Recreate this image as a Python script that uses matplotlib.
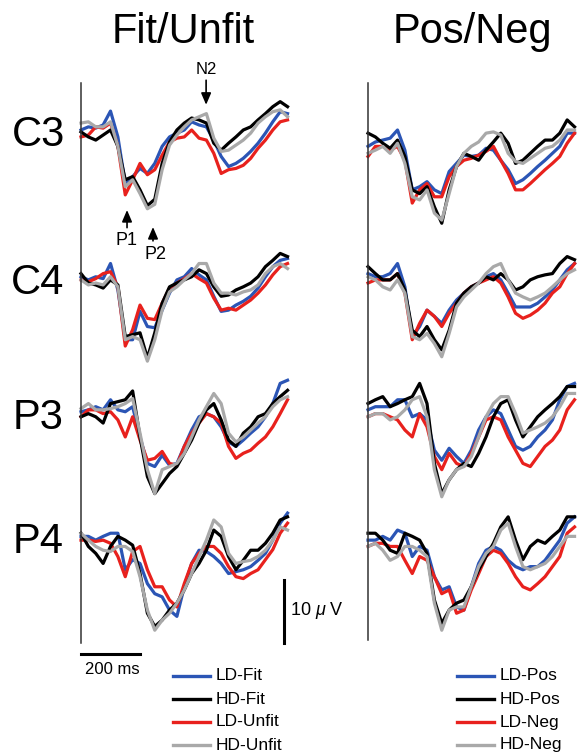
import numpy as np
import matplotlib
matplotlib.use('Agg')
from matplotlib import pyplot as plt
from matplotlib.lines import Line2D

plt.rcParams['font.family'] = ['Liberation Sans', 'DejaVu Sans']
plt.rcParams['mathtext.fontset'] = 'custom'
plt.rcParams['mathtext.it'] = 'Liberation Sans:italic'

# time points of the grand averages (ms)
times = np.arange(0, 701, 25)

electrodes = ['C3', 'C4', 'P3', 'P4']
fit_labels = ['LD-Fit', 'HD-Fit', 'LD-Unfit', 'HD-Unfit']
pos_labels = ['LD-Pos', 'HD-Pos', 'LD-Neg', 'HD-Neg']
trace_colors = ['#2b55b5', '#000000', '#e8211d', '#a9a9a9']

# amplitudes in microvolts (negative is drawn up)
# --- Fit/Unfit ---
c3_ld_fit = [0.0, -0.5, -0.3, -0.8, -3.0, 1.1, 8.5, 7.4, 6.1, 6.9, 5.3, 2.6, 1.1, 0.5, 0.0, -1.3, -0.8, -0.5, 1.6, 4.2, 5.8, 5.3, 4.5, 3.4, 2.1, 0.5, -1.3, -2.9, -2.6]
c3_hd_fit = [0.3, 1.1, 1.6, 0.8, 0.0, 2.6, 7.9, 7.4, 9.5, 12.0, 11.0, 5.3, 1.9, 0.0, -1.1, -1.9, -1.6, -1.1, 2.1, 3.2, 2.1, 1.1, 0.0, -0.5, -1.6, -2.6, -3.7, -4.5, -3.7]
c3_ld_unfit = [1.1, 0.8, -0.5, -0.3, -1.1, 2.6, 10.3, 7.9, 5.3, 7.1, 6.3, 4.0, 1.9, 1.3, 1.1, 0.0, 1.3, 1.6, 3.7, 6.9, 6.3, 6.1, 5.6, 4.5, 2.9, 1.6, 0.0, -1.3, -1.6]
c3_hd_unfit = [-1.1, -1.3, -0.5, -0.5, -1.3, 2.6, 9.0, 7.9, 10.1, 12.5, 11.8, 6.3, 2.4, 0.8, -0.5, -1.6, -2.1, -2.6, 1.3, 3.4, 3.2, 2.4, 1.6, 0.5, -1.1, -2.1, -2.9, -3.2, -2.1]

c4_ld_fit = [-0.2, 0.3, -0.2, 0.1, -2.3, 1.9, 9.8, 9.8, 5.3, 7.7, 7.9, 5.1, 2.4, 0.3, -0.2, -1.5, -0.5, 0.3, 2.9, 5.3, 5.1, 4.3, 3.7, 2.9, 1.6, -0.2, -1.8, -2.8, -3.1]
c4_hd_fit = [-0.7, 0.8, 1.1, 1.6, 0.3, 1.1, 9.3, 9.0, 8.7, 12.7, 8.7, 4.0, 1.4, 0.8, 0.3, -0.2, -1.3, -0.7, 1.4, 2.9, 2.7, 1.9, 1.4, 0.8, -0.2, -1.8, -2.8, -3.9, -3.4]
c4_ld_unfit = [0.3, 0.6, 0.1, -0.7, -1.0, 1.4, 10.8, 8.2, 4.3, 6.4, 6.6, 4.0, 1.6, 0.8, 0.1, -0.7, 0.1, 0.8, 3.2, 5.1, 4.8, 5.1, 4.3, 3.5, 2.4, 1.1, -0.5, -1.8, -2.3]
c4_hd_unfit = [0.3, 1.1, 0.8, 1.1, -0.2, 1.4, 9.8, 9.3, 9.8, 13.2, 9.8, 5.1, 2.2, 1.4, 0.3, -0.7, -2.3, -2.3, 0.8, 2.4, 2.4, 2.7, 2.2, 1.9, 1.1, -0.7, -1.8, -2.3, -1.5]

p3_ld_fit = [-0.2, -0.5, -1.0, -0.5, -2.1, -0.5, -0.2, -1.0, 3.8, 8.0, 8.5, 6.7, 8.3, 8.0, 5.3, 2.7, 0.6, 0.1, 0.6, 2.2, 4.6, 5.3, 4.3, 3.2, 2.2, 0.6, -1.5, -4.7, -5.2]
p3_hd_fit = [0.6, 0.1, 0.6, 1.6, -1.5, -1.8, -2.1, -3.5, 3.8, 10.1, 12.8, 11.2, 9.6, 8.5, 6.4, 4.3, 1.6, -0.5, -1.5, 1.1, 4.3, 5.3, 3.2, 2.2, 0.6, 0.1, -1.5, -2.6, -3.6]
p3_ld_unfit = [0.6, -0.5, -0.5, 0.1, -0.2, 1.1, 3.8, 0.6, 4.3, 7.5, 7.2, 6.1, 8.0, 8.3, 5.3, 3.2, 1.6, 0.1, 0.6, 1.6, 5.3, 7.2, 6.4, 5.9, 4.8, 3.8, 2.2, 0.1, -2.1]
p3_hd_unfit = [-0.7, -1.5, -0.5, -0.5, -0.7, -1.0, -1.5, -2.3, 3.2, 9.0, 12.8, 9.0, 8.5, 8.0, 6.4, 3.8, 1.1, -1.0, -3.1, -1.5, 3.2, 4.6, 3.8, 2.7, 1.6, 0.6, -1.0, -2.1, -2.6]

p4_ld_fit = [-0.1, -0.1, 0.5, -0.1, -0.6, -0.6, 5.2, 3.6, 4.2, 7.4, 9.0, 9.5, 11.6, 12.6, 7.9, 4.2, 2.1, 2.3, 3.1, 4.2, 5.8, 5.5, 5.2, 4.7, 3.7, 2.6, 0.5, -2.2, -3.8]
p4_hd_fit = [-0.6, 1.5, 2.6, 4.2, 1.5, -0.1, 0.5, 1.3, 5.8, 12.1, 14.2, 13.2, 11.6, 10.5, 8.4, 5.8, 4.2, 2.1, -1.1, -0.1, 3.1, 5.2, 3.7, 2.1, 2.1, 1.0, -0.6, -2.7, -3.2]
p4_ld_unfit = [0.5, 0.5, 0.7, 0.5, 1.0, 3.1, 6.3, 2.3, 1.5, 5.2, 7.9, 7.9, 10.0, 11.1, 7.4, 4.2, 2.6, 1.5, 1.5, 2.6, 4.7, 6.3, 6.6, 5.8, 5.2, 3.6, 2.0, -0.6, -2.2]
p4_hd_unfit = [-0.6, 0.5, 1.5, 2.1, 2.3, 1.5, 1.5, 2.3, 6.3, 11.6, 14.8, 13.2, 12.1, 10.5, 8.4, 5.8, 3.1, 0.5, -2.7, -1.6, 2.6, 4.2, 3.9, 3.7, 3.1, 2.1, 0.5, -1.6, -1.1]

# --- Pos/Neg ---
c3_ld_pos = [2.6, 1.9, 1.6, 1.3, 0.0, 3.2, 9.5, 9.0, 8.2, 9.5, 10.1, 6.6, 5.3, 4.0, 4.2, 4.0, 2.9, 3.2, 4.8, 6.3, 8.5, 7.9, 6.9, 5.8, 4.8, 3.7, 2.6, 0.5, 0.5]
c3_hd_pos = [0.5, 1.1, 2.1, 2.9, 1.6, 4.2, 9.5, 10.1, 9.0, 12.2, 14.8, 9.5, 5.8, 3.7, 4.2, 4.8, 3.2, 1.9, 0.5, 2.1, 5.3, 4.8, 3.7, 2.6, 1.6, 1.6, 0.5, -1.6, -0.5]
c3_ld_neg = [4.2, 2.6, 2.6, 3.2, 2.6, 4.8, 11.6, 9.5, 8.5, 10.6, 10.6, 7.4, 5.8, 4.8, 4.5, 4.0, 3.4, 2.6, 4.8, 6.9, 9.5, 9.5, 8.5, 7.4, 6.3, 5.3, 4.2, 2.1, 0.5]
c3_hd_neg = [3.7, 3.2, 2.6, 3.7, 2.1, 5.3, 10.6, 11.1, 9.5, 13.2, 14.3, 10.1, 5.8, 3.7, 2.6, 1.9, 0.5, 0.3, 0.8, 3.7, 5.0, 5.3, 4.5, 3.7, 2.9, 2.6, 1.6, 0.0, 0.0]

c4_ld_pos = [-0.7, -0.2, -0.2, -0.7, -2.3, 1.4, 9.3, 7.7, 5.1, 6.1, 7.2, 5.1, 3.5, 2.4, 1.4, 0.8, -0.2, -0.7, 0.3, 2.4, 4.6, 4.6, 4.6, 4.0, 3.0, 1.9, 0.3, -1.3, -2.3]
c4_hd_pos = [-1.8, -0.7, 0.3, 0.3, -0.7, 1.9, 8.3, 9.3, 7.7, 9.8, 11.4, 8.3, 4.0, 2.4, 1.4, 0.8, -0.2, 0.3, -0.7, 0.3, 1.9, 1.4, 0.3, -0.2, -0.5, -0.7, -2.3, -3.4, -2.9]
c4_ld_neg = [0.8, 0.3, 0.3, 0.3, -0.7, 2.4, 9.8, 7.2, 5.1, 6.1, 7.7, 5.6, 4.0, 2.4, 1.4, 0.8, 0.3, -0.2, 0.8, 3.0, 5.6, 6.4, 5.9, 5.1, 4.0, 2.4, 1.4, -0.7, -2.3]
c4_hd_neg = [-0.2, 0.3, 1.4, 1.9, 0.3, 2.4, 9.3, 9.8, 8.8, 10.4, 12.5, 8.8, 4.6, 3.0, 1.9, 0.8, -0.7, -1.8, -2.3, 0.3, 2.4, 3.0, 3.5, 3.0, 2.4, 1.4, 0.3, -0.7, -1.3]

p3_ld_pos = [-0.5, -1.0, -1.0, -1.0, -2.1, -2.1, 0.6, 0.1, 1.1, 5.9, 7.5, 5.6, 6.9, 8.0, 5.9, 2.7, 0.6, -0.5, 0.1, 2.7, 5.3, 5.9, 5.3, 3.8, 2.7, 1.1, -2.1, -4.2, -4.7]
p3_hd_pos = [-1.5, -2.1, -2.6, -1.0, -1.5, -2.1, -2.6, -4.7, -1.5, 8.0, 12.8, 10.6, 9.0, 8.0, 8.5, 6.4, 3.8, 0.6, -1.5, -2.1, 1.1, 3.8, 2.2, 0.6, -0.5, -1.5, -2.6, -4.2, -4.2]
p3_ld_neg = [0.6, 0.1, 0.1, 0.6, 1.1, 2.7, 3.8, 0.1, 2.2, 6.9, 9.0, 6.4, 8.0, 8.5, 6.4, 3.8, 1.1, 0.6, 1.1, 3.8, 5.9, 8.0, 8.5, 6.9, 5.3, 4.3, 2.7, -0.5, -2.1]
p3_hd_neg = [0.6, 0.1, 0.1, 1.1, 0.6, -0.5, -2.1, -2.6, 0.6, 9.0, 13.3, 10.6, 9.0, 8.5, 6.9, 3.8, 0.6, -1.5, -2.6, -2.6, 0.1, 3.2, 2.7, 2.2, 1.6, 0.6, -1.0, -3.1, -3.1]

p4_ld_pos = [0.5, 0.5, -0.1, 0.5, -1.1, -0.6, 3.1, 1.5, 2.1, 6.3, 8.4, 7.9, 11.1, 11.6, 7.9, 4.2, 2.1, 1.5, 2.1, 3.7, 4.7, 5.2, 4.7, 4.7, 3.7, 2.1, 0.5, -2.2, -3.2]
p4_hd_pos = [-0.6, -0.6, 0.5, 2.1, 2.6, -0.6, -0.1, 0.5, 2.6, 10.0, 13.7, 11.6, 10.5, 10.0, 7.9, 5.2, 3.1, 1.0, -1.6, -3.2, 0.5, 3.6, 1.5, 0.5, 1.0, -0.1, -1.1, -3.2, -3.2]
p4_ld_neg = [1.5, 1.0, 1.0, 1.5, 1.5, 3.7, 5.8, 3.1, 3.7, 6.3, 9.0, 8.4, 12.1, 11.6, 8.4, 5.8, 3.1, 2.1, 2.6, 4.2, 6.3, 7.9, 8.4, 7.4, 6.3, 4.7, 3.1, -0.6, -1.6]
p4_hd_neg = [1.5, 1.0, 2.1, 3.7, 3.1, 1.5, 1.5, 2.1, 3.1, 10.5, 14.8, 11.6, 11.1, 11.1, 7.9, 4.7, 2.6, 1.5, -1.1, -2.2, 1.5, 4.7, 5.2, 4.7, 4.2, 3.1, 1.5, -0.1, -0.1]

fit_data = {
    'C3': [c3_ld_fit, c3_hd_fit, c3_ld_unfit, c3_hd_unfit],
    'C4': [c4_ld_fit, c4_hd_fit, c4_ld_unfit, c4_hd_unfit],
    'P3': [p3_ld_fit, p3_hd_fit, p3_ld_unfit, p3_hd_unfit],
    'P4': [p4_ld_fit, p4_hd_fit, p4_ld_unfit, p4_hd_unfit],
}
pos_data = {
    'C3': [c3_ld_pos, c3_hd_pos, c3_ld_neg, c3_hd_neg],
    'C4': [c4_ld_pos, c4_hd_pos, c4_ld_neg, c4_hd_neg],
    'P3': [p3_ld_pos, p3_hd_pos, p3_ld_neg, p3_hd_neg],
    'P4': [p4_ld_pos, p4_hd_pos, p4_ld_neg, p4_hd_neg],
}

# figure layout in pixels
W, H = 577, 754
fig = plt.figure(figsize=(W / 100, H / 100), dpi=100)

col_x = [81, 368]          # left edge of each column
row_base = [130, 278, 413, 537]  # pixel row of 0 uV for each electrode
panel_w = 209.5
up_uv, down_uv = -8, 15
px_per_uv = 6.3


def panel_axes(x0, base):
    top = base + up_uv * px_per_uv
    bottom = base + down_uv * px_per_uv
    ax = fig.add_axes([x0 / W, 1 - bottom / H, panel_w / W, (bottom - top) / H])
    ax.set_xlim(0, 710)
    ax.set_ylim(down_uv, up_uv)   # negative up
    ax.axis('off')
    return ax


draw_order = [0, 2, 1, 3]  # blue, red, black, gray on top
axes = {}
for c, data in enumerate([fit_data, pos_data]):
    for r, name in enumerate(electrodes):
        ax = panel_axes(col_x[c], row_base[r])
        axes[(c, r)] = ax
        for k in draw_order:
            ax.plot(times, data[name][k], color=trace_colors[k], lw=2.3,
                    clip_on=False)

# vertical axis lines
fig.add_artist(Line2D([81 / W, 81 / W], [1 - 83 / H, 1 - 643 / H], color='#333333', lw=1.1))
fig.add_artist(Line2D([368 / W, 368 / W], [1 - 83 / H, 1 - 640 / H], color='#333333', lw=1.1))

# column titles and electrode names
fig.text(183 / W, 1 - 32 / H, 'Fit/Unfit', fontsize=30, ha='center', va='center')
fig.text(472 / W, 1 - 32 / H, 'Pos/Neg', fontsize=30, ha='center', va='center')
for r, name in enumerate(electrodes):
    fig.text(38 / W, 1 - (row_base[r] + 5) / H, name, fontsize=30, ha='center', va='center')

# component markers on C3
ax = axes[(0, 0)]
arrow = dict(arrowstyle='-|>,head_length=0.7,head_width=0.3', color='black', lw=1.2,
             shrinkA=0, shrinkB=0)
ax.annotate('', xy=(424, -4.0), xytext=(424, -7.9), arrowprops=arrow, annotation_clip=False)
ax.text(424, -9.6, 'N2', fontsize=12, ha='center', va='center')
ax.annotate('', xy=(156, 12.7), xytext=(156, 15.5), arrowprops=arrow, annotation_clip=False)
ax.text(154, 17.6, 'P1', fontsize=13, ha='center', va='center')
ax.annotate('', xy=(244, 15.4), xytext=(244, 17.6), arrowprops=arrow, annotation_clip=False)
ax.text(254, 19.7, 'P2', fontsize=13, ha='center', va='center')

# scale bars on bottom-left panel
ax = axes[(0, 3)]
ax.plot([688, 688], [6.8, 16.8], color='black', lw=2.2, clip_on=False)
ax.text(708, 11.7, r'10 $\mathit{\mu}$ V', fontsize=13, ha='left', va='center')
ax.plot([0, 200], [18.6, 18.6], color='black', lw=2.2, clip_on=False)
ax.text(105, 21.1, '200 ms', fontsize=12, ha='center', va='center')

# legends
leg_rows = [676, 699, 722, 745]
for labels, lx0, lx1, tx in [(fit_labels, 173, 210, 216), (pos_labels, 457, 494, 500)]:
    for k, lab in enumerate(labels):
        y = 1 - leg_rows[k] / H
        fig.add_artist(Line2D([lx0 / W, lx1 / W], [y, y], color=trace_colors[k], lw=2.4))
        fig.text(tx / W, y, lab, fontsize=12.5, ha='left', va='center')

plt.savefig('out.png', dpi=100)
